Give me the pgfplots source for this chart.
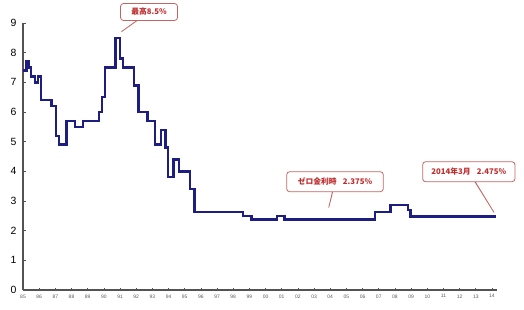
\documentclass[border=0pt]{standalone}
\usepackage{fontspec}
\setmainfont{Liberation Sans}
\newfontfamily\cjk{Noto Sans CJK JP}
\usepackage{pgfplots}
\pgfplotsset{compat=1.18}
\usetikzlibrary{shapes.callouts}
\definecolor{navy}{RGB}{30,30,130}
\definecolor{txtred}{RGB}{190,45,45}
\definecolor{boxred}{RGB}{195,100,100}
\begin{document}
\begin{tikzpicture}[x=1bp,y=1bp]
\path[use as bounding box] (0,0) rectangle (524,309);
\begin{axis}[
  at={(23bp,19bp)}, anchor=south west,
  scale only axis, width=474bp, height=267bp,
  xmin=1985, xmax=2014.31, ymin=0, ymax=9,
  axis x line=bottom, axis y line=left,
  axis line style={-, draw=gray!65!black, line width=1.2bp},
  /pgf/number format/assume math mode=true,
  xtick={1985,...,2014},
  xticklabels={85,86,87,88,89,90,91,92,93,94,95,96,97,98,99,00,01,02,03,04,05,06,07,08,09,10,11,12,13,14},
  minor x tick num=3,
  ytick={0,...,9},
  tick align=inside,
  major tick length=2.5bp, minor tick length=2bp,
  tick style={draw=gray!65!black, line width=0.6bp},
  x tick label style={font=\fontsize{5}{5}\selectfont, text=gray!70!black, yshift=-1bp},
  y tick label style={font=\fontsize{10.5}{10.5}\selectfont, xshift=-3bp},
  clip=false,
]
\addplot[const plot, draw=navy, line width=2.4bp] coordinates {
(1985.00,7.40) (1985.22,7.70) (1985.33,7.50) (1985.50,7.20) (1985.75,7.00)
(1985.92,7.20) (1986.10,6.40) (1986.75,6.20) (1987.05,5.20) (1987.22,4.90)
(1987.70,5.70) (1988.20,5.50) (1988.72,5.70) (1989.70,6.00) (1989.88,6.50)
(1990.08,7.50) (1990.72,8.50) (1991.00,7.80) (1991.20,7.50) (1991.85,6.90)
(1992.15,6.00) (1992.70,5.70) (1993.15,4.90) (1993.55,5.40) (1993.80,4.80)
(1993.95,3.80) (1994.30,4.40) (1994.65,4.00) (1995.33,3.40) (1995.60,2.625)
(1998.60,2.50) (1999.12,2.375) (2000.72,2.50) (2001.18,2.375) (2006.75,2.625)
(2007.72,2.875) (2008.80,2.70) (2008.95,2.475) (2014.25,2.475)
};
\end{axis}
\tikzset{co/.style={rectangle callout, rounded corners=3bp, draw=boxred, line width=0.8bp, fill=white, text=txtred, inner sep=0pt, font=\cjk\bfseries\fontsize{7.8}{7.8}\selectfont}}
\node[co, minimum width=57bp, minimum height=17bp, callout pointer width=0.12, callout absolute pointer={(120,276.3)}] at (149,297) {最高8.5\%};
\node[co, minimum width=96.6bp, minimum height=20bp, callout pointer width=0.15, callout absolute pointer={(328.3,99.7)}] at (335,127.3) {ゼロ金利時\hspace{0.8em}2.375\%};
\node[co, minimum width=92.3bp, minimum height=20bp, callout pointer width=0.25, callout absolute pointer={(495,95)}] at (468.8,137.3) {2014年3月\hspace{0.8em}2.475\%};
\end{tikzpicture}
\end{document}
